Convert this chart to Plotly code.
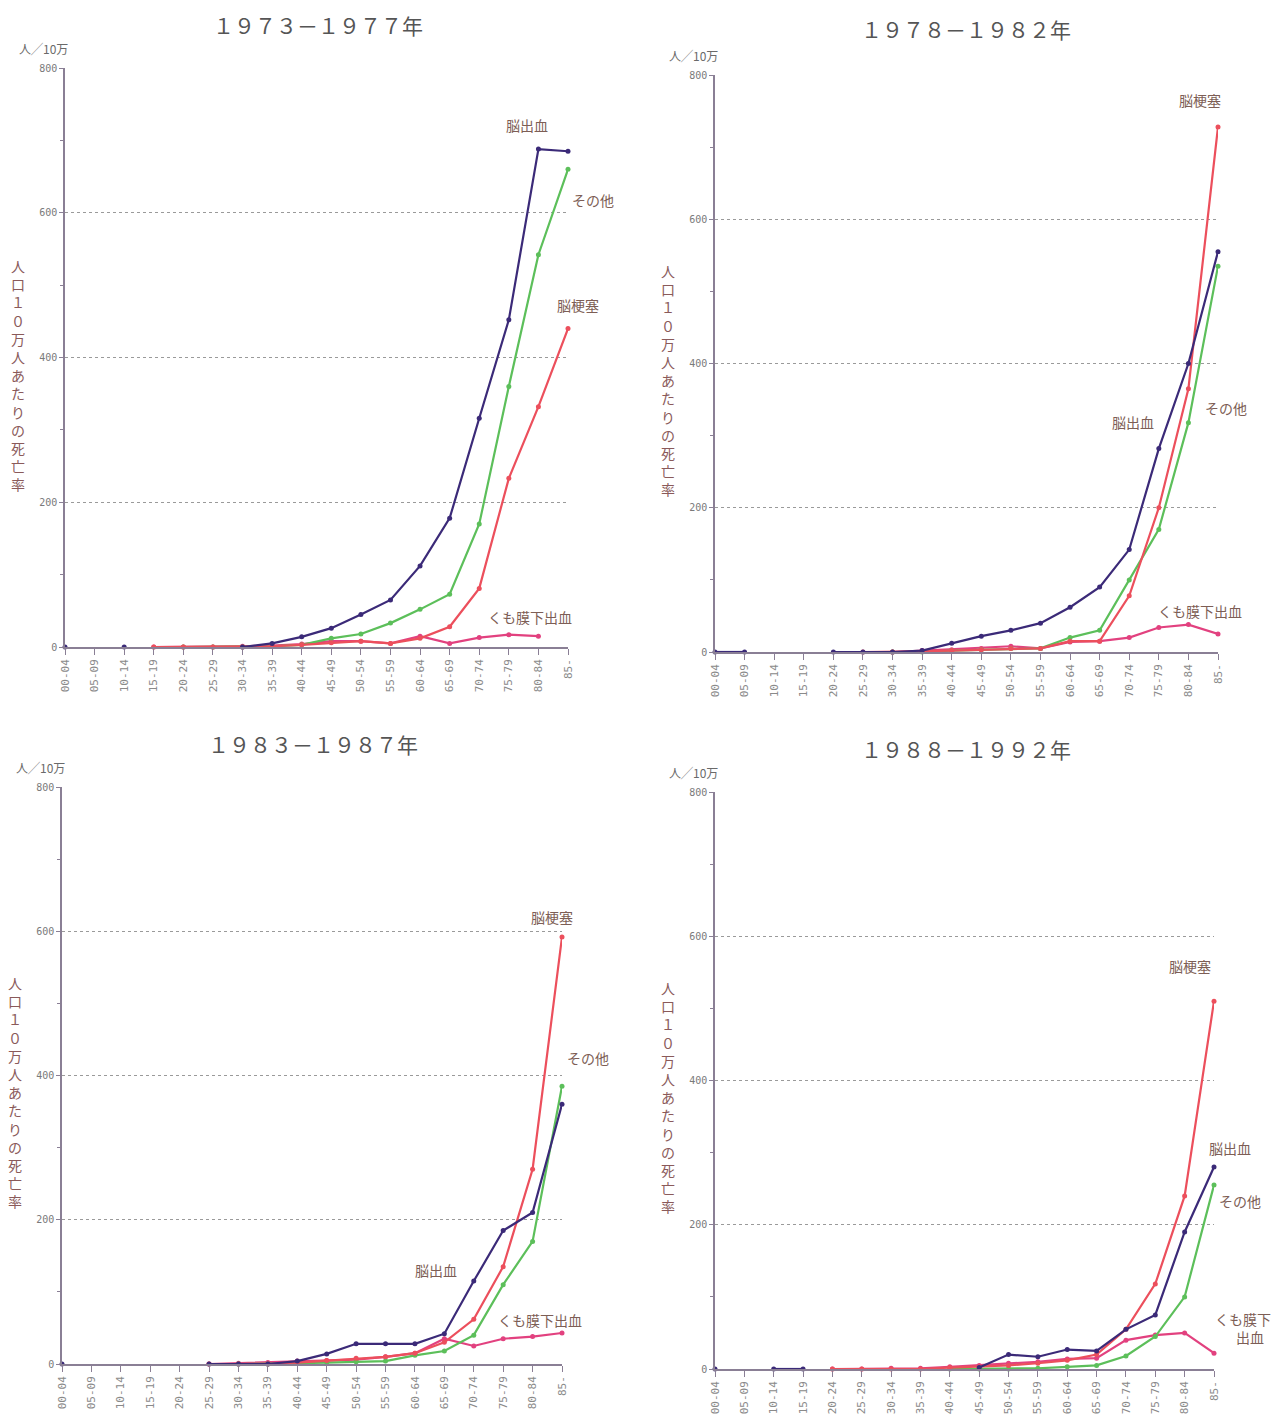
import plotly.graph_objects as go

W, H = 1279, 1417
OFF = 8  # default body margin of the html page

ages = ["00-04", "05-09", "10-14", "15-19", "20-24", "25-29", "30-34", "35-39",
        "40-44", "45-49", "50-54", "55-59", "60-64", "65-69", "70-74", "75-79",
        "80-84", "85-"]

titles = ["１９７３－１９７７年", "１９７８－１９８２年", "１９８３－１９８７年", "１９８８－１９９２年"]

N = None
# 1973-1977
p1_hemorrhage = [0, N, 0, N, N, N, 0, 5, 14, 26, 45, 65, 112, 178, 316, 452, 688, 685]
p1_other      = [N, N, N, N, 0, 0, 0, 1, 3, 12, 18, 33, 52, 73, 170, 360, 542, 660]
p1_infarction = [N, N, N, 0, 0, 0, 0, 1, 3, 6, 8, 5, 12, 28, 81, 233, 332, 440]
p1_subarach   = [N, N, N, 0, 0, 0, 1, 2, 4, 8, 8, 5, 15, 5, 13, 17, 15, N]
# 1978-1982
p2_hemorrhage = [0, 0, N, N, 0, 0, 0, 2, 12, 22, 30, 40, 62, 90, 142, 282, 400, 555]
p2_other      = [N, N, N, N, N, N, 0, 0, 2, 3, 5, 5, 20, 30, 100, 170, 318, 535]
p2_infarction = [N, N, N, N, N, 0, 0, 1, 2, 3, 5, 5, 15, 15, 78, 200, 365, 728]
p2_subarach   = [N, N, N, N, N, N, 0, 2, 3, 5, 8, 5, 14, 15, 20, 34, 38, 25]
# 1983-1987
p3_hemorrhage = [0, N, N, N, N, 0, 0, 0, 4, 14, 28, 28, 28, 42, 115, 185, 210, 360]
p3_other      = [N, N, N, N, N, N, 0, 0, 1, 2, 3, 4, 12, 18, 40, 110, 170, 385]
p3_infarction = [N, N, N, N, N, 0, 0, 0, 2, 5, 8, 10, 15, 30, 62, 135, 270, 592]
p3_subarach   = [N, N, N, N, N, 0, 1, 2, 4, 5, 6, 10, 15, 35, 25, 35, 38, 43]
# 1988-1992
p4_hemorrhage = [0, N, 0, 0, N, N, N, N, N, 2, 20, 17, 27, 25, 55, 75, 190, 280]
p4_other      = [N, N, N, N, N, N, N, N, 0, 0, 0, 1, 3, 5, 18, 45, 100, 255]
p4_infarction = [N, N, N, N, 0, 0, 0, 0, 2, 3, 5, 8, 12, 20, 55, 118, 240, 510]
p4_subarach   = [N, N, N, N, 0, 0, 1, 1, 3, 5, 8, 10, 14, 15, 40, 47, 50, 22]

series_names = ["脳出血", "その他", "脳梗塞", "くも膜下出血"]
colors = ["#3b2a78", "#5cbf5a", "#ec4f5c", "#e2417f"]

panels = [
    [p1_hemorrhage, p1_other, p1_infarction, p1_subarach],
    [p2_hemorrhage, p2_other, p2_infarction, p2_subarach],
    [p3_hemorrhage, p3_other, p3_infarction, p3_subarach],
    [p4_hemorrhage, p4_other, p4_infarction, p4_subarach],
]

# pixel geometry in the screenshot: (x of first category, x of last category, y of 0, y of 800)
geom = [
    (65, 568, 647, 68),
    (715, 1218, 652, 75),
    (62, 562, 1364, 787),
    (715, 1214, 1369, 792),
]

FW, FH = W - OFF, H - OFF


def px(x):
    return (x - OFF) / FW


def py(y):
    return 1 - (y - OFF) / FH


fig = go.Figure()
layout_axes = {}
annotations = []
FONT = "Noto Sans CJK JP"
label_color = "#7d5e55"
axis_color = "#8a7f95"

for i, (data, g) in enumerate(zip(panels, geom)):
    k = "" if i == 0 else str(i + 1)
    x0, x1, y0, y1 = g
    xdom = [px(x0), px(x1)]
    ydom = [py(y0), py(y1)]
    for si in [3, 1, 2, 0]:
        fig.add_trace(go.Scatter(
            x=list(range(len(ages))), y=data[si], mode="lines+markers",
            line=dict(color=colors[si], width=2.2),
            marker=dict(color=colors[si], size=5),
            cliponaxis=False, showlegend=False, connectgaps=False,
            xaxis="x" + k, yaxis="y" + k, name=series_names[si]))
    layout_axes["xaxis" + k] = dict(
        domain=xdom, range=[0, 17], anchor="y" + k, automargin=False,
        tickvals=list(range(len(ages))), ticktext=ages, tickangle=-90,
        showline=True, linecolor=axis_color, linewidth=1.5,
        ticks="outside", ticklen=6, tickcolor=axis_color,
        showgrid=False, zeroline=False,
        tickfont=dict(size=11, color="#8a8a8a", family="DejaVu Sans Mono"))
    layout_axes["yaxis" + k] = dict(
        domain=ydom, range=[0, 800], anchor="x" + k, automargin=False,
        tickvals=[0, 200, 400, 600, 800],
        ticktext=["0", "200", "400", "600", "800"],
        showline=True, linecolor=axis_color, linewidth=1.5,
        ticks="outside", ticklen=4, tickcolor=axis_color,
        minor=dict(dtick=100, ticks="outside", ticklen=3, tickcolor=axis_color, showgrid=False),
        showgrid=True, gridcolor="#9a9a9a", griddash="dot", gridwidth=1.2,
        zeroline=False,
        tickfont=dict(size=10, color="#7a7a7a", family="DejaVu Sans Mono"))
    annotations.append(dict(
        text=titles[i], xref="paper", yref="paper", xanchor="center", yanchor="top",
        x=px([318, 966, 313, 966][i]), y=py([8, 12, 727, 732][i]),
        showarrow=False, font=dict(size=21, color="#555555", family=FONT)))
    annotations.append(dict(
        text="人╱10万", xref="paper", yref="paper", xanchor="center", yanchor="middle",
        x=px(x0 - 22), y=py(y1 - 20), showarrow=False,
        font=dict(size=12, color="#6a6a6a", family=FONT)))
    annotations.append(dict(
        text="<br>".join(list("人口１０万人あたりの死亡率")), xref="paper", yref="paper",
        xanchor="center", yanchor="middle",
        x=px(x0 - 47), y=py(y0 - 272), showarrow=False,
        font=dict(size=14, color="#8a5a5a", family=FONT)))

series_labels = [
    [("脳出血", 527, 125), ("その他", 593, 200), ("脳梗塞", 578, 305), ("くも膜下出血", 530, 617)],
    [("脳梗塞", 1200, 100), ("脳出血", 1133, 422), ("その他", 1226, 408), ("くも膜下出血", 1200, 611)],
    [("脳梗塞", 552, 917), ("その他", 588, 1058), ("脳出血", 436, 1270), ("くも膜下出血", 540, 1320)],
    [("脳梗塞", 1190, 966), ("脳出血", 1230, 1148), ("その他", 1240, 1201), ("くも膜下<br>　出血", 1243, 1328)],
]
for pl in series_labels:
    for txt, lx, ly in pl:
        annotations.append(dict(
            text=txt, xref="paper", yref="paper", x=px(lx), y=py(ly),
            xanchor="center", yanchor="middle",
            showarrow=False, font=dict(size=14, color=label_color, family=FONT)))

fig.update_layout(
    width=FW, height=FH, margin=dict(l=0, r=0, t=0, b=0),
    paper_bgcolor="white", plot_bgcolor="white",
    annotations=annotations, **layout_axes)

fig.write_html("out.html")
